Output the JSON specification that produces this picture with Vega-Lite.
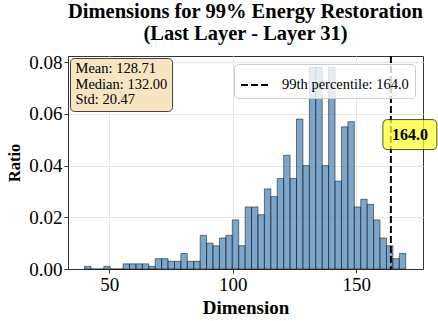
{
  "$schema": "https://vega.github.io/schema/vega-lite/v6.json",
  "width": 355,
  "height": 213,
  "autosize": {"type": "none"},
  "padding": {"left": 68, "top": 56, "right": 15, "bottom": 52},
  "background": "white",
  "title": {
    "text": ["Dimensions for 99% Energy Restoration", "(Last Layer - Layer 31)"],
    "font": "Liberation Serif",
    "fontSize": 20.5,
    "fontWeight": "bold",
    "color": "black",
    "anchor": "middle",
    "lineHeight": 22,
    "offset": 9
  },
  "config": {
    "view": {"stroke": "#333", "strokeWidth": 1},
    "axis": {
      "labelFont": "Liberation Serif",
      "labelFontSize": 19,
      "labelColor": "black",
      "titleFont": "Liberation Serif",
      "titleFontSize": 19,
      "titleFontWeight": "bold",
      "titleColor": "black",
      "domainColor": "#333",
      "tickColor": "#333",
      "tickSize": 4,
      "labelPadding": 2,
      "gridColor": "#e6e6e6",
      "gridWidth": 1
    }
  },
  "datasets": {
    "hist": [
      {"bin_start": 40.0, "bin_end": 42.6, "ratio": 0.001},
      {"bin_start": 42.6, "bin_end": 45.2, "ratio": 0.0},
      {"bin_start": 45.2, "bin_end": 47.8, "ratio": 0.0},
      {"bin_start": 47.8, "bin_end": 50.4, "ratio": 0.001},
      {"bin_start": 50.4, "bin_end": 53.0, "ratio": 0.0},
      {"bin_start": 53.0, "bin_end": 55.6, "ratio": 0.0},
      {"bin_start": 55.6, "bin_end": 58.2, "ratio": 0.002},
      {"bin_start": 58.2, "bin_end": 60.8, "ratio": 0.002},
      {"bin_start": 60.8, "bin_end": 63.4, "ratio": 0.002},
      {"bin_start": 63.4, "bin_end": 66.0, "ratio": 0.002},
      {"bin_start": 66.0, "bin_end": 68.6, "ratio": 0.001},
      {"bin_start": 68.6, "bin_end": 71.2, "ratio": 0.004},
      {"bin_start": 71.2, "bin_end": 73.8, "ratio": 0.004},
      {"bin_start": 73.8, "bin_end": 76.4, "ratio": 0.003},
      {"bin_start": 76.4, "bin_end": 79.0, "ratio": 0.003},
      {"bin_start": 79.0, "bin_end": 81.6, "ratio": 0.006},
      {"bin_start": 81.6, "bin_end": 84.2, "ratio": 0.003},
      {"bin_start": 84.2, "bin_end": 86.8, "ratio": 0.003},
      {"bin_start": 86.8, "bin_end": 89.4, "ratio": 0.013},
      {"bin_start": 89.4, "bin_end": 92.0, "ratio": 0.010},
      {"bin_start": 92.0, "bin_end": 94.6, "ratio": 0.009},
      {"bin_start": 94.6, "bin_end": 97.2, "ratio": 0.012},
      {"bin_start": 97.2, "bin_end": 99.8, "ratio": 0.013},
      {"bin_start": 99.8, "bin_end": 102.4, "ratio": 0.019},
      {"bin_start": 102.4, "bin_end": 105.0, "ratio": 0.009},
      {"bin_start": 105.0, "bin_end": 107.6, "ratio": 0.024},
      {"bin_start": 107.6, "bin_end": 110.2, "ratio": 0.024},
      {"bin_start": 110.2, "bin_end": 112.8, "ratio": 0.021},
      {"bin_start": 112.8, "bin_end": 115.4, "ratio": 0.031},
      {"bin_start": 115.4, "bin_end": 118.0, "ratio": 0.028},
      {"bin_start": 118.0, "bin_end": 120.6, "ratio": 0.035},
      {"bin_start": 120.6, "bin_end": 123.2, "ratio": 0.044},
      {"bin_start": 123.2, "bin_end": 125.8, "ratio": 0.035},
      {"bin_start": 125.8, "bin_end": 128.4, "ratio": 0.058},
      {"bin_start": 128.4, "bin_end": 131.0, "ratio": 0.040},
      {"bin_start": 131.0, "bin_end": 133.6, "ratio": 0.078},
      {"bin_start": 133.6, "bin_end": 136.2, "ratio": 0.078},
      {"bin_start": 136.2, "bin_end": 138.8, "ratio": 0.040},
      {"bin_start": 138.8, "bin_end": 141.4, "ratio": 0.078},
      {"bin_start": 141.4, "bin_end": 144.0, "ratio": 0.034},
      {"bin_start": 144.0, "bin_end": 146.6, "ratio": 0.055},
      {"bin_start": 146.6, "bin_end": 149.2, "ratio": 0.057},
      {"bin_start": 149.2, "bin_end": 151.8, "ratio": 0.024},
      {"bin_start": 151.8, "bin_end": 154.4, "ratio": 0.027},
      {"bin_start": 154.4, "bin_end": 157.0, "ratio": 0.025},
      {"bin_start": 157.0, "bin_end": 159.6, "ratio": 0.019},
      {"bin_start": 159.6, "bin_end": 162.2, "ratio": 0.012},
      {"bin_start": 162.2, "bin_end": 164.8, "ratio": 0.009},
      {"bin_start": 164.8, "bin_end": 167.4, "ratio": 0.004},
      {"bin_start": 167.4, "bin_end": 170.0, "ratio": 0.006}
    ],
    "stats": [
      {"stat": "Mean: 128.71"},
      {"stat": "Median: 132.00"},
      {"stat": "Std: 20.47"}
    ],
    "p99": [
      {"dimension": 164, "label": "164.0", "series": "99th percentile: 164.0"}
    ]
  },
  "layer": [
    {
      "data": {"name": "hist"},
      "mark": {"type": "rect", "fill": "#4682b4", "fillOpacity": 0.7, "stroke": "black", "strokeOpacity": 0.7, "strokeWidth": 0.7},
      "encoding": {
        "x": {
          "field": "bin_start", "type": "quantitative",
          "scale": {"domain": [33.3, 177], "nice": false, "zero": false},
          "axis": {"values": [50, 100, 150], "title": "Dimension", "titlePadding": 4}
        },
        "x2": {"field": "bin_end"},
        "y": {
          "field": "ratio", "type": "quantitative",
          "scale": {"domain": [0, 0.0824], "nice": false},
          "axis": {"values": [0, 0.02, 0.04, 0.06, 0.08], "format": ".2f", "title": "Ratio", "titlePadding": 6, "titleFontSize": 16.5}
        },
        "y2": {"datum": 0}
      }
    },
    {
      "data": {"name": "stats"},
      "mark": {"type": "point", "opacity": 0},
      "encoding": {
        "shape": {
          "field": "stat", "type": "nominal",
          "scale": {"domain": ["Mean: 128.71", "Median: 132.00", "Std: 20.47"]},
          "legend": {
            "title": null,
            "orient": "top-left",
            "offset": 2,
            "fillColor": "#f7e5c2",
            "strokeColor": "#444",
            "cornerRadius": 4,
            "padding": 4,
            "labelFont": "Liberation Serif",
            "labelFontSize": 14.5,
            "labelColor": "black",
            "labelOffset": -13,
            "symbolSize": 0,
            "symbolOpacity": 0,
            "symbolStrokeWidth": 0,
            "rowPadding": 0.5
          }
        }
      }
    },
    {
      "data": {"name": "p99"},
      "mark": {"type": "rule", "stroke": "black", "strokeWidth": 2},
      "encoding": {
        "x": {"field": "dimension", "type": "quantitative"},
        "strokeDash": {
          "field": "series", "type": "nominal",
          "scale": {"range": [[7, 3]]},
          "legend": {
            "title": null,
            "orient": "top-right",
            "offset": 8,
            "fillColor": "rgba(255,255,255,0.8)",
            "strokeColor": "#cccccc",
            "cornerRadius": 4,
            "padding": 6,
            "labelFont": "Liberation Serif",
            "labelFontSize": 14.5,
            "labelColor": "black",
            "labelOffset": 12,
            "symbolType": "stroke",
            "symbolSize": 784,
            "symbolStrokeWidth": 2,
            "symbolStrokeColor": "black"
          }
        }
      }
    },
    {
      "data": {"name": "p99"},
      "mark": {
        "type": "point",
        "shape": "M-1.47,-1 L1.47,-1 Q1.8,-1 1.8,-0.67 L1.8,0.67 Q1.8,1 1.47,1 L-1.47,1 Q-1.8,1 -1.8,0.67 L-1.8,-0.67 Q-1.8,-1 -1.47,-1 Z",
        "size": 900,
        "filled": true,
        "fill": "#ffff33",
        "fillOpacity": 0.75,
        "stroke": "black",
        "strokeOpacity": 0.7,
        "strokeWidth": 1,
        "opacity": 1,
        "xOffset": 19
      },
      "encoding": {
        "x": {"field": "dimension", "type": "quantitative"},
        "y": {"datum": 0.052}
      }
    },
    {
      "data": {"name": "p99"},
      "mark": {
        "type": "text",
        "font": "Liberation Serif",
        "fontSize": 16,
        "fontWeight": "bold",
        "color": "black",
        "align": "center",
        "baseline": "middle",
        "xOffset": 19
      },
      "encoding": {
        "x": {"field": "dimension", "type": "quantitative"},
        "y": {"datum": 0.052},
        "text": {"field": "label"}
      }
    }
  ]
}
